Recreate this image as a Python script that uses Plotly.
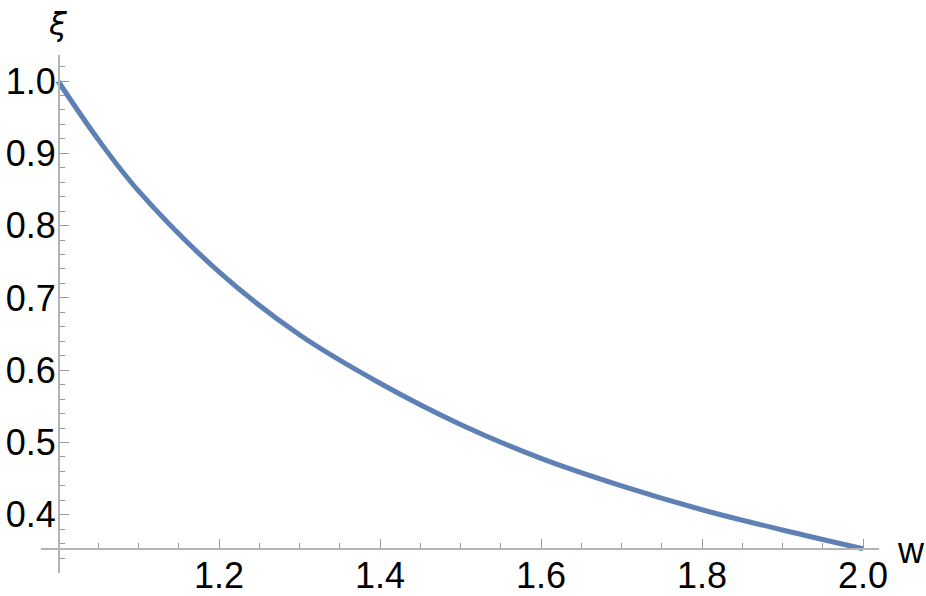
import plotly.graph_objects as go

# ---- data ----
w_values = [1.00, 1.05, 1.10, 1.20, 1.30, 1.40, 1.50, 1.60, 1.70, 1.80, 1.90, 2.00]
xi_values = [1.000, 0.919, 0.848, 0.736, 0.649, 0.582, 0.525, 0.478, 0.440, 0.407, 0.379, 0.353]

x_major_ticks = [1.2, 1.4, 1.6, 1.8, 2.0]
x_major_labels = ["1.2", "1.4", "1.6", "1.8", "2.0"]
y_major_ticks = [0.4, 0.5, 0.6, 0.7, 0.8, 0.9, 1.0]
y_major_labels = ["0.4", "0.5", "0.6", "0.7", "0.8", "0.9", "1.0"]
x_minor_ticks = [1.05, 1.10, 1.15, 1.25, 1.30, 1.35, 1.45, 1.50, 1.55, 1.65, 1.70, 1.75,
                 1.85, 1.90, 1.95]
y_minor_ticks = [0.32, 0.34, 0.36, 0.38, 0.42, 0.44, 0.46, 0.48, 0.52, 0.54, 0.56, 0.58,
                 0.62, 0.64, 0.66, 0.68, 0.72, 0.74, 0.76, 0.78, 0.82, 0.84, 0.86, 0.88,
                 0.92, 0.94, 0.96, 0.98, 1.02]

x_axis_label = "w"
y_axis_label = "ξ"

# ---- layout geometry ----
W, H = 926, 596
L, R, T, B = 41, 47, 55, 23
x_range = [0.97888, 2.01987]
y_range = [0.3195, 1.03596]
x_origin = 1.0      # where the vertical axis crosses
y_origin = 0.3535   # where the horizontal axis crosses

def xfrac(v):
    return (v - x_range[0]) / (x_range[1] - x_range[0])

def yfrac(v):
    return (v - y_range[0]) / (y_range[1] - y_range[0])

def px_to_paper(px, py):
    return (px - L) / (W - L - R), (H - B - py) / (H - T - B)

font_family = "Liberation Sans, Arial, sans-serif"
axis_gray = "#b4b4b4"
tick_gray = "#9a9a9a"
tick_size = 36

fig = go.Figure()
fig.add_trace(go.Scatter(
    x=w_values, y=xi_values, mode="lines",
    line=dict(color="#5E81B5", width=5, shape="spline", smoothing=1.0),
    hoverinfo="skip", showlegend=False,
))

fig.update_layout(
    width=W, height=H,
    margin=dict(l=L, r=R, t=T, b=B, autoexpand=False),
    paper_bgcolor="white", plot_bgcolor="white",
    font=dict(family=font_family, size=tick_size, color="black"),
    xaxis=dict(
        range=x_range, showgrid=False, zeroline=False,
        showline=True, linecolor=axis_gray, linewidth=1.5,
        anchor="free", position=yfrac(y_origin),
        tickmode="array", tickvals=x_major_ticks, ticktext=x_major_labels,
        ticks="inside", ticklen=9, tickwidth=1, tickcolor=tick_gray,
        minor=dict(tickmode="array", tickvals=x_minor_ticks, ticks="inside",
                   ticklen=5, tickwidth=1, tickcolor=tick_gray, showgrid=False),
        tickfont=dict(family=font_family, size=tick_size, color="black"),
        ticklabelstandoff=-5,
        automargin=False,
    ),
    yaxis=dict(
        range=y_range, showgrid=False, zeroline=False,
        showline=True, linecolor=axis_gray, linewidth=1.5,
        anchor="free", position=xfrac(x_origin),
        tickmode="array", tickvals=y_major_ticks, ticktext=y_major_labels,
        ticks="inside", ticklen=9, tickwidth=1, tickcolor=tick_gray,
        minor=dict(tickmode="array", tickvals=y_minor_ticks, ticks="inside",
                   ticklen=5, tickwidth=1, tickcolor=tick_gray, showgrid=False),
        tickfont=dict(family=font_family, size=tick_size, color="black"),
        ticklabelstandoff=-5,
        automargin=False,
    ),
)

ax, ay = px_to_paper(911, 550)
fig.add_annotation(x=ax, y=ay, xref="paper", yref="paper", text=x_axis_label,
                   showarrow=False, xanchor="center", yanchor="middle",
                   font=dict(family=font_family, size=tick_size, color="black"))
bx, by = px_to_paper(58, 24)
fig.add_annotation(x=bx, y=by, xref="paper", yref="paper", text="<i>" + y_axis_label + "</i>",
                   showarrow=False, xanchor="center", yanchor="middle",
                   font=dict(family="DejaVu Sans, sans-serif", size=32, color="black"))

fig.write_html(
    "out.html",
    config={"displayModeBar": False, "staticPlot": True},
    post_script="document.body.style.margin='0';document.body.style.overflow='hidden';",
)
